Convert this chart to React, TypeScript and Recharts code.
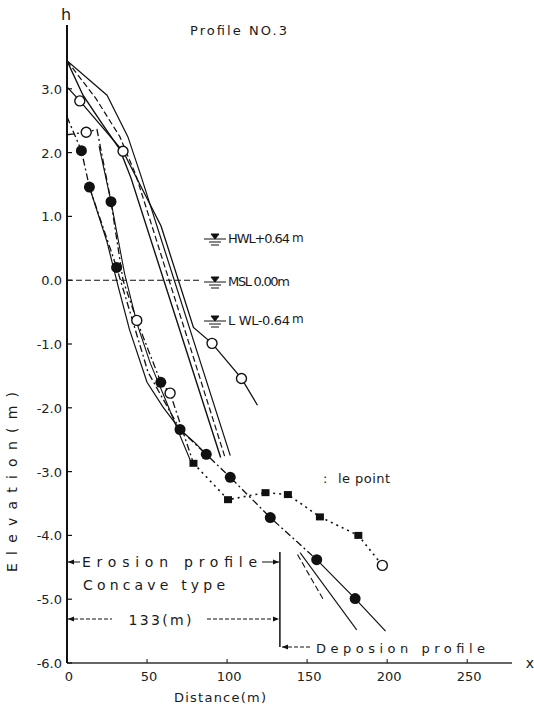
import React from 'react';
import { LineChart, Line, XAxis, YAxis, ReferenceLine } from 'recharts';

// Beach profile No.3 surveys. dist = distance (m), elev = elevation (m)
// marks: o = open circle, f = filled circle, s = square, - = plain vertex
const initDist = [0, 8, 35, 58.75, 79, 90.6, 109, 119];
const initElev = [3.03, 2.81, 2.02, 0.85, -0.74, -0.99, -1.54, -1.96];
const initMarks = '-oo--oo-';

const s2Dist = [0, 10, 22, 33, 40, 96];
const s2Elev = [3.44, 2.9, 2.45, 2.05, 1.6, -2.78];

const s3Dist = [0, 18, 33, 43, 99];
const s3Elev = [3.44, 2.85, 2.25, 1.65, -2.8];

const s4Dist = [0, 25, 38, 46, 102];
const s4Elev = [3.44, 2.9, 2.25, 1.65, -2.75];

const fillDist = [0, 9, 14, 31, 50.6, 70.6, 87, 102, 127, 156];
const fillElev = [2.56, 2.03, 1.46, 0.2, -1.44, -2.34, -2.73, -3.09, -3.72, -4.38];
const fillMarks = '-fff-fffff';
const fillTailDist = [156, 180, 199];
const fillTailElev = [-4.38, -4.99, -5.5];
const fillTailMarks = '-f-';

const mixDist = [0, 12, 18.75, 27.5, 35, 43.6, 58.6, 64.4, 79];
const mixElev = [2.28, 2.32, 2.36, 1.23, 0, -0.63, -1.6, -1.77, -2.87];
const mixMarks = '-o-f-ofos';
const mixTailDist = [79, 100.6, 124, 138, 158, 182, 197];
const mixTailElev = [-2.87, -3.44, -3.33, -3.36, -3.71, -4.0, -4.47];
const mixTailMarks = '-ssssso';

const curveDist = [14, 25, 32, 39, 50, 60, 70.6, 80, 87];
const curveElev = [1.46, 0.6, -0.1, -0.77, -1.6, -1.99, -2.34, -2.55, -2.73];

const innerDist = [20, 27.5, 36, 44, 52, 62, 70, 78];
const innerElev = [2.1, 1.23, 0.1, -0.7, -1.3, -1.9, -2.4, -2.88];

const offA_Dist = [145.6, 181];
const offA_Elev = [-4.27, -5.48];
const offB_Dist = [144, 160];
const offB_Elev = [-4.3, -5.0];

const xTicks = [0, 50, 100, 150, 200, 250];
const yTicks = [-6, -5, -4, -3, -2, -1, 0, 1, 2, 3];

const toPoints = (dist: number[], elev: number[], marks = '') =>
  dist.map((x, i) => ({ x, y: elev[i], m: marks[i] || '-' }));

const FONT = '"DejaVu Sans", Verdana, sans-serif';
const INK = '#111';

const series = [
  { id: 'init', pts: toPoints(initDist, initElev, initMarks), dash: undefined, w: 1.3 },
  { id: 's2', pts: toPoints(s2Dist, s2Elev), dash: undefined, w: 1.4 },
  { id: 's3', pts: toPoints(s3Dist, s3Elev), dash: '6 3', w: 1.2 },
  { id: 's4', pts: toPoints(s4Dist, s4Elev), dash: undefined, w: 1.2 },
  { id: 'fill', pts: toPoints(fillDist, fillElev, fillMarks), dash: '7 3 2 3', w: 1.3 },
  { id: 'fillTail', pts: toPoints(fillTailDist, fillTailElev, fillTailMarks), dash: undefined, w: 1.2 },
  { id: 'mix', pts: toPoints(mixDist, mixElev, mixMarks), dash: '7 3 2 3', w: 1.3 },
  { id: 'mixTail', pts: toPoints(mixTailDist, mixTailElev, mixTailMarks), dash: '2 4', w: 1.6 },
  { id: 'curve', pts: toPoints(curveDist, curveElev), dash: undefined, w: 1.2 },
  { id: 'inner', pts: toPoints(innerDist, innerElev), dash: undefined, w: 1.1 },
  { id: 'offA', pts: toPoints(offA_Dist, offA_Elev), dash: undefined, w: 1.1 },
  { id: 'offB', pts: toPoints(offB_Dist, offB_Elev), dash: '6 3', w: 1.1 },
];

const Marker = (props: any) => {
  const { cx, cy, payload, index } = props;
  const k = `mk-${index}-${cx}`;
  if (cx == null || cy == null) return <g key={k} />;
  if (payload.m === 'o')
    return <circle key={k} cx={cx} cy={cy} r={5} fill="#fff" stroke={INK} strokeWidth={1.4} />;
  if (payload.m === 'f') return <circle key={k} cx={cx} cy={cy} r={5.5} fill={INK} />;
  if (payload.m === 's') return <rect key={k} x={cx - 4} y={cy - 3.5} width={8} height={7} fill={INK} />;
  return <g key={k} />;
};

const XTick = ({ x, y, payload }: any) => (
  <g>
    <line x1={x} x2={x} y1={y} y2={y - 4} stroke={INK} strokeWidth={1} />
    <text x={x + 2} y={y + 18} textAnchor="middle" fontFamily={FONT} fontSize={13} fill="#222">
      {payload.value}
    </text>
  </g>
);

const YTick = ({ x, y, payload }: any) => (
  <g>
    <line x1={x} x2={x + 5} y1={y} y2={y} stroke={INK} strokeWidth={1.2} />
    <text x={x - 5} y={y + 5} textAnchor="end" fontFamily={FONT} fontSize={13} fill="#222">
      {payload.value.toFixed(1)}
    </text>
  </g>
);

// water level symbol: level line, inverted triangle, two short bars below
const WaterMark = ({ x, y }: { x: number; y: number }) => (
  <g stroke={INK} strokeWidth={1}>
    <line x1={x - 11} x2={x + 11} y1={y} y2={y} />
    <path d={`M${x - 4},${y - 5} L${x + 4},${y - 5} L${x},${y} Z`} fill={INK} />
    <line x1={x - 6} x2={x + 6} y1={y + 3} y2={y + 3} />
    <line x1={x - 4} x2={x + 4} y1={y + 6} y2={y + 6} />
  </g>
);

const Arrow = ({ x, y, dir }: { x: number; y: number; dir: 1 | -1 }) => (
  <path d={`M${x},${y} L${x - dir * 6},${y - 2.5} L${x - dir * 6},${y + 2.5} Z`} fill={INK} />
);

const txt = { fontFamily: FONT, fill: '#1a1a1a' };

export default function App() {
  return (
    <div style={{ position: 'absolute', left: 0, top: 0, width: 534, height: 712, background: '#fff' }}>
      <LineChart width={534} height={712} margin={{ top: 25, right: 22, bottom: 19, left: 7 }}>
        <XAxis
          type="number"
          dataKey="x"
          domain={[0, 278]}
          ticks={xTicks}
          allowDataOverflow
          height={30}
          tickSize={0}
          tickMargin={0}
          tick={<XTick />}
          axisLine={{ stroke: '#333', strokeWidth: 1.3 }}
          tickLine={false}
        />
        <YAxis
          type="number"
          dataKey="y"
          domain={[-6, 4]}
          ticks={yTicks}
          allowDataOverflow
          width={60}
          tickSize={0}
          tickMargin={0}
          tick={<YTick />}
          axisLine={{ stroke: INK, strokeWidth: 2 }}
          tickLine={false}
        />
        <ReferenceLine
          segment={[{ x: 0, y: 0 }, { x: 83, y: 0 }]}
          stroke={INK}
          strokeWidth={1.1}
          strokeDasharray="6 3"
        />
        <ReferenceLine
          segment={[{ x: 133, y: -4.26 }, { x: 133, y: -5.75 }]}
          stroke={INK}
          strokeWidth={1.5}
        />
        {series.map((s) => (
          <Line
            key={s.id}
            data={s.pts}
            dataKey="y"
            type="linear"
            stroke={INK}
            strokeWidth={s.w}
            strokeDasharray={s.dash}
            dot={<Marker />}
            activeDot={false}
            isAnimationActive={false}
          />
        ))}
      </LineChart>

      <svg width={534} height={712} style={{ position: 'absolute', left: 0, top: 0, pointerEvents: 'none' }}>
        <text x={66} y={20} textAnchor="middle" fontSize={16} {...txt}>h</text>
        <text x={530} y={668} textAnchor="middle" fontSize={14} {...txt}>x</text>
        <text x={190} y={35} fontSize={13} textLength={97} lengthAdjust="spacing" {...txt}>Profile NO.3</text>

        <text x={174} y={702} fontSize={13} textLength={92} lengthAdjust="spacing" {...txt}>Distance(m)</text>
        <text
          x={12}
          y={482}
          fontSize={14}
          textAnchor="middle"
          dominantBaseline="central"
          textLength={180}
          lengthAdjust="spacing"
          transform="rotate(-90 12 482)"
          {...txt}
        >
          Elevation(m)
        </text>

        <WaterMark x={215} y={239} />
        <text x={228} y={243} fontSize={13} textLength={62} lengthAdjust="spacing" {...txt}>HWL+0.64</text>
        <text x={292} y={242} fontSize={12} {...txt}>m</text>
        <WaterMark x={215} y={282} />
        <text x={228} y={286} fontSize={13} textLength={62} lengthAdjust="spacing" {...txt}>MSL 0.00m</text>
        <WaterMark x={215} y={321} />
        <text x={228} y={325} fontSize={13} textLength={62} lengthAdjust="spacing" {...txt}>L WL-0.64</text>
        <text x={292} y={323} fontSize={12} {...txt}>m</text>

        <text x={323} y={483} fontSize={13} {...txt}>:</text>
        <text x={338} y={483} fontSize={13} textLength={52} lengthAdjust="spacing" {...txt}>le point</text>

        <line x1={68} x2={80} y1={562} y2={562} stroke={INK} strokeWidth={1} />
        <Arrow x={68} y={562} dir={-1} />
        <text x={82} y={567} fontSize={14} textLength={175} lengthAdjust="spacing" {...txt}>Erosion profile</text>
        <line x1={262} x2={279} y1={562} y2={562} stroke={INK} strokeWidth={1} />
        <Arrow x={279} y={562} dir={1} />
        <text x={83} y={590} fontSize={14} textLength={142} lengthAdjust="spacing" {...txt}>Concave type</text>

        <line x1={68} x2={112} y1={619} y2={619} stroke={INK} strokeWidth={1} strokeDasharray="4 2" />
        <Arrow x={68} y={619} dir={-1} />
        <text x={160} y={625} fontSize={14} textAnchor="middle" textLength={63} lengthAdjust="spacing" {...txt}>133(m)</text>
        <line x1={207} x2={279} y1={619} y2={619} stroke={INK} strokeWidth={1} strokeDasharray="4 2" />
        <Arrow x={279} y={619} dir={1} />

        <line x1={282} x2={310} y1={647} y2={647} stroke={INK} strokeWidth={1} strokeDasharray="4 2" />
        <Arrow x={282} y={647} dir={-1} />
        <text x={316} y={653} fontSize={13} textLength={169} lengthAdjust="spacing" {...txt}>Deposion profile</text>
      </svg>
    </div>
  );
}
